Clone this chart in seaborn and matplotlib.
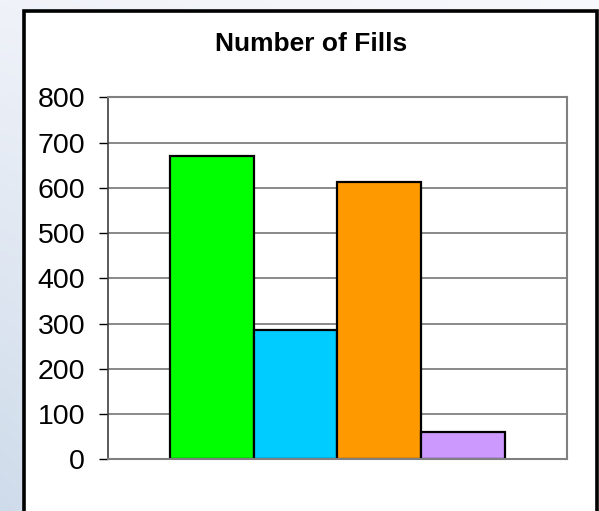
import numpy as np
import matplotlib
matplotlib.use("Agg")
import matplotlib.pyplot as plt
from matplotlib.patches import Rectangle
import seaborn as sns

# Chart data
series = ["Series 1", "Series 2", "Series 3", "Series 4"]
fills = [670, 285, 612, 61]
bar_colors = ["#00ff00", "#00ccff", "#ff9900", "#cc99ff"]
y_ticks = [0, 100, 200, 300, 400, 500, 600, 700, 800]
title = "Number of Fills"

sns.set_theme(style="white")
plt.rcParams["font.family"] = ["Liberation Sans", "DejaVu Sans"]

W, H, DPI = 599, 511, 100
fig = plt.figure(figsize=(W / DPI, H / DPI), dpi=DPI)

# soft blue-grey backdrop
bg = fig.add_axes([0, 0, 1, 1], zorder=-10)
yy, xx = np.mgrid[0:1:200j, 0:1:200j]
top_left = np.array([0.94, 0.95, 0.975])
bottom_left = np.array([0.81, 0.86, 0.92])
right = np.array([0.97, 0.975, 0.99])
t = yy[..., None]
s = xx[..., None]
left_col = top_left * (1 - t) + bottom_left * t
img = left_col * (1 - s) + right * s
bg.imshow(img, extent=[0, 1, 0, 1], aspect="auto", origin="upper")
bg.set_xlim(0, 1)
bg.set_ylim(0, 1)
bg.axis("off")

# white chart panel with black frame
panel = Rectangle((24 / W, -0.05), (597 - 24) / W, (H - 11.5) / H + 0.05,
                  transform=fig.transFigure, facecolor="white",
                  edgecolor="black", linewidth=2.6, zorder=-5)
fig.patches.append(panel)

ax = fig.add_axes([108 / W, (H - 459.3) / H, 458.7 / W, 362 / H])
ax.set_facecolor("white")

sns.barplot(x=series, y=fills, hue=series, palette=bar_colors, width=1.0,
            edgecolor="black", linewidth=1.6, legend=False, ax=ax,
            saturation=1.0)

ax.set_xlim(-1.24, 4.24)
ax.set_ylim(0, 800)
ax.set_yticks(y_ticks)
ax.set_yticklabels([str(v) for v in y_ticks], fontsize=20.5, color="black")
ax.set_xticks([])
ax.set_xlabel("")
ax.set_ylabel("")

ax.yaxis.grid(True, color="#808080", linewidth=1.3)
ax.set_axisbelow(True)
ax.tick_params(axis="y", which="both", left=True, length=6.5, width=1,
               color="black", pad=10, direction="out")

for side in ["top", "right", "bottom"]:
    ax.spines[side].set_visible(True)
    ax.spines[side].set_color("#808080")
    ax.spines[side].set_linewidth(1.5)
ax.spines["left"].set_color("#404040")
ax.spines["left"].set_linewidth(1.2)

fig.text(311.5 / W, (H - 44) / H, title, ha="center", va="center",
         fontsize=19, fontweight="bold", color="black")

fig.savefig("out.png", dpi=DPI)
